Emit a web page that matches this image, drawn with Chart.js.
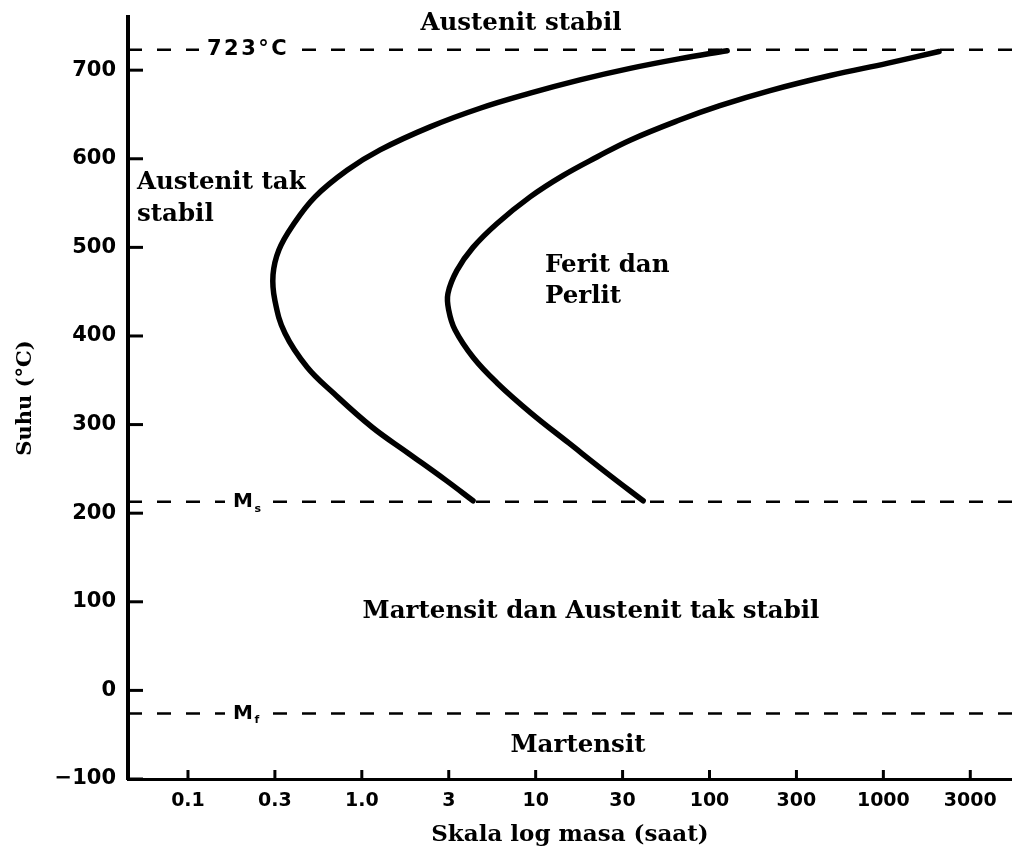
<!DOCTYPE html>
<html>
<head>
<meta charset="utf-8">
<title>Diagram TTT</title>
<script src="https://cdn.jsdelivr.net/npm/chart.js@4.4.1/dist/chart.umd.min.js"></script>
<style>
  html, body { margin: 0; padding: 0; background: #fff; }
  #wrap { width: 1012px; height: 859px; }
</style>
</head>
<body>
<div id="wrap"><canvas id="ttt" width="1012" height="859"></canvas></div>
<script>
// sumbu waktu (saat): label berjarak sama
var timeTicks = [0.1, 0.3, 1, 3, 10, 30, 100, 300, 1000, 3000];
var timeLabels = ['0.1', '0.3', '1.0', '3', '10', '30', '100', '300', '1000', '3000'];

// kurva mulai transformasi (kiri)
var startTime = [125, 66.6, 33.3, 17.5, 9.26, 4.63, 2.37, 1.26, 0.815, 0.523, 0.385, 0.317, 0.293, 0.3, 0.345, 0.468, 0.68, 1.14, 1.79, 2.9, 4.2];
var startTemp = [722, 713, 702, 689, 674, 657, 636, 610, 587, 557, 525, 497, 469, 440, 403, 365, 335, 297, 268, 237, 214];

// kurva akhir transformasi (kanan)
var endTime = [2020, 1062, 479, 215, 114, 66.6, 33.3, 21.7, 14.1, 9.26, 5.86, 4.2, 3.36, 2.97, 3.0, 3.27, 4.2, 5.86, 9.38, 15.25, 24.7, 39.9];
var endTemp = [721, 708, 694, 677, 660, 644, 621, 602, 581, 557, 527, 500, 474, 448, 429, 407, 376, 347, 313, 279, 245, 214];

// garis putus-putus
var tempA1 = 723;
var tempMs = 213;
var tempMf = -26;

var black = '#000';
var serif = "'DejaVu Serif', 'Liberation Serif', serif";
var sans = "'DejaVu Sans', sans-serif";

// posisi pada sumbu: tiap label satu satuan, log di antaranya
function timeToPos(t) {
    var n = timeTicks.length;
    for (var i = 0; i < n - 1; i++) {
        if (t <= timeTicks[i + 1] || i === n - 2) {
            return i + Math.log(t / timeTicks[i]) / Math.log(timeTicks[i + 1] / timeTicks[i]);
        }
    }
}

function curve(times, temps) {
    return times.map(function (t, i) {
        return { x: timeToPos(t), y: temps[i] };
    });
}

var xMin = -0.69, xMax = 9.48;

function flat(y) {
    return [{ x: xMin, y: y }, { x: xMax, y: y }];
}

var dashedLine = {
    borderColor: black,
    borderWidth: 2.5,
    borderDash: [14, 15],
    pointRadius: 0,
    fill: false
};

var curveLine = {
    borderColor: black,
    borderWidth: 5.5,
    borderCapStyle: 'round',
    borderJoinStyle: 'round',
    tension: 0.4,
    pointRadius: 0,
    fill: false
};

var datasets = [
    Object.assign({ label: '723', data: flat(tempA1) }, dashedLine),
    Object.assign({ label: 'Ms', data: flat(tempMs) }, dashedLine),
    Object.assign({ label: 'Mf', data: flat(tempMf) }, dashedLine),
    Object.assign({ label: 'mulai', data: curve(startTime, startTemp) }, curveLine),
    Object.assign({ label: 'akhir', data: curve(endTime, endTemp) }, curveLine)
];

var whiteBg = {
    id: 'whiteBg',
    beforeDraw: function (chart) {
        var c = chart.ctx;
        c.save();
        c.fillStyle = '#fff';
        c.fillRect(0, 0, chart.width, chart.height);
        c.restore();
    }
};

// tanda skala ke arah dalam
var innerTicks = {
    id: 'innerTicks',
    afterDatasetsDraw: function (chart) {
        var c = chart.ctx, a = chart.chartArea;
        var xs = chart.scales.x, ys = chart.scales.y;
        c.save();
        c.strokeStyle = black;
        c.lineWidth = 3;
        ys.ticks.forEach(function (t) {
            var py = ys.getPixelForValue(t.value);
            c.beginPath();
            c.moveTo(a.left, py);
            c.lineTo(a.left + 15, py);
            c.stroke();
        });
        xs.ticks.forEach(function (t) {
            var px = xs.getPixelForValue(t.value);
            c.beginPath();
            c.moveTo(px, a.bottom);
            c.lineTo(px, a.bottom - 9);
            c.stroke();
        });
        c.restore();
    }
};

function onLine(c, text, sub, x, y, size) {
    c.letterSpacing = '2.5px';
    c.font = 'bold ' + size + 'px ' + sans;
    var w = c.measureText(text).width;
    var sw = 0;
    if (sub) {
        c.font = 'bold 11px ' + sans;
        sw = c.measureText(sub).width + 1;
    }
    c.fillStyle = '#fff';
    c.fillRect(x - 8, y - 6, w + sw + 14, 12);
    c.fillStyle = black;
    c.textBaseline = 'middle';
    c.textAlign = 'left';
    c.font = 'bold ' + size + 'px ' + sans;
    c.fillText(text, x, y);
    if (sub) {
        c.font = 'bold 11px ' + sans;
        c.fillText(sub, x + w - 1, y + 7);
    }
    c.letterSpacing = '0px';
}

var regionText = {
    id: 'regionText',
    afterDraw: function (chart) {
        var c = chart.ctx;
        var ys = chart.scales.y;
        c.save();
        onLine(c, '723\u00B0C', null, 207, ys.getPixelForValue(tempA1), 21);
        onLine(c, 'M', 's', 233, ys.getPixelForValue(tempMs), 20);
        onLine(c, 'M', 'f', 233, ys.getPixelForValue(tempMf), 20);

        c.fillStyle = black;
        c.font = 'bold 24.5px ' + serif;
        c.textBaseline = 'middle';
        c.textAlign = 'center';
        c.fillText('Austenit stabil', 521, 24);
        c.fillText('Martensit dan Austenit tak stabil', 591, 612);
        c.fillText('Martensit', 578, 746);
        c.textAlign = 'left';
        c.fillText('Austenit tak', 137, 183);
        c.fillText('stabil', 137, 215);
        c.fillText('Ferit dan', 545, 266);
        c.fillText('Perlit', 545, 297);
        c.restore();
    }
};

var ctx = document.getElementById('ttt');
new Chart(ctx, {
    type: 'line',
    data: { datasets: datasets },
    options: {
        responsive: false,
        animation: false,
        devicePixelRatio: 1,
        layout: { padding: { top: 17, right: 0, left: 0, bottom: 0 } },
        plugins: {
            legend: { display: false },
            tooltip: { enabled: false }
        },
        scales: {
            x: {
                type: 'linear',
                min: xMin,
                max: xMax,
                afterFit: function (s) { s.height = 80; },
                grid: { display: false, drawTicks: false },
                border: { display: true, color: black, width: 3 },
                ticks: {
                    stepSize: 1,
                    includeBounds: false,
                    autoSkip: false,
                    maxRotation: 0,
                    padding: 11,
                    color: black,
                    font: { family: sans, weight: 'bold', size: 19 },
                    callback: function (v) { return timeLabels[v]; }
                },
                title: {
                    display: true,
                    text: 'Skala log masa (saat)',
                    color: black,
                    font: { family: serif, weight: 'bold', size: 23 },
                    padding: { top: 4, bottom: 10 }
                }
            },
            y: {
                min: -100,
                max: 760,
                afterFit: function (s) {
                    s.width = 128;
                    s.paddingTop = 0;
                    s.paddingBottom = 0;
                },
                grid: { display: false, drawTicks: false },
                border: { display: true, color: black, width: 4 },
                ticks: {
                    stepSize: 100,
                    includeBounds: false,
                    autoSkip: false,
                    padding: 12,
                    color: black,
                    font: { family: sans, weight: 'bold', size: 21 },
                    callback: function (v) { return v < 0 ? '\u2212' + Math.abs(v) : v; }
                },
                title: {
                    display: true,
                    text: 'Suhu (\u00B0C)',
                    color: black,
                    font: { family: serif, weight: 'bold', size: 21 },
                    padding: { top: 13, bottom: 6 }
                }
            }
        }
    },
    plugins: [whiteBg, innerTicks, regionText]
});
</script>
</body>
</html>
